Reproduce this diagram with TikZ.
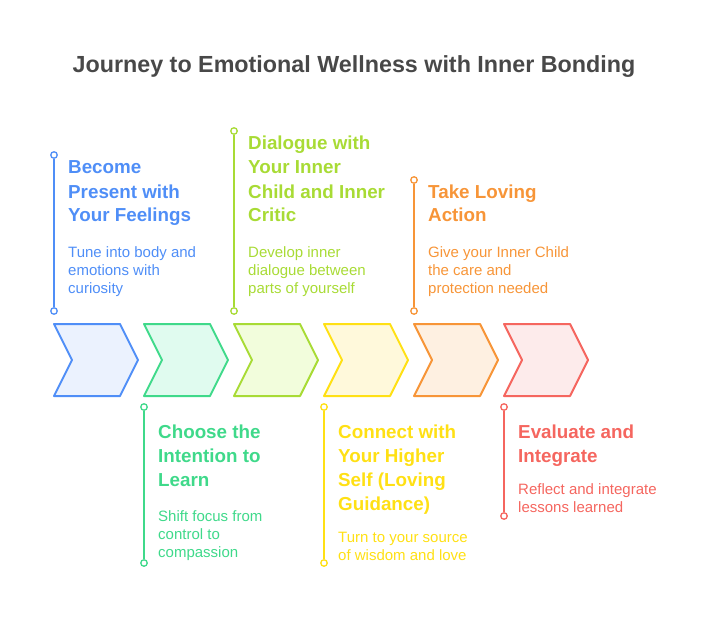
\documentclass[tikz,border=0pt]{standalone}
\usepackage{fontspec}
\setmainfont{Liberation Sans}
\definecolor{titlec}{HTML}{484848}
\definecolor{cA}{HTML}{4F8EF7}\definecolor{fA}{HTML}{EBF2FE}
\definecolor{cB}{HTML}{3FD98A}\definecolor{fB}{HTML}{E0FBEF}
\definecolor{cC}{HTML}{A8DB35}\definecolor{fC}{HTML}{F2FDDC}
\definecolor{cD}{HTML}{FFE014}\definecolor{fD}{HTML}{FFF9DB}
\definecolor{cE}{HTML}{F79538}\definecolor{fE}{HTML}{FEF0E1}
\definecolor{cF}{HTML}{F5665F}\definecolor{fF}{HTML}{FDEBEB}
\begin{document}
\begin{tikzpicture}[x=1pt,y=-1pt]
\useasboundingbox (0,0) rectangle (708,636);
\tikzset{
 hd/.style={font=\fontsize{18.8}{24}\selectfont\bfseries, inner sep=0, anchor=base west},
 bd/.style={font=\fontsize{15}{18}\selectfont, inner sep=0, anchor=base west},
 dot/.style={circle, draw, fill=white, line width=1.3pt, minimum size=6.5pt, inner sep=0},
 vline/.style={line width=2pt},
 chev/.style={line width=2pt, line join=round},
}
\node[font=\fontsize{23.3}{28}\selectfont\bfseries, text=titlec, inner sep=0] (title) at (354,67) {Journey to Emotional Wellness with Inner Bonding};

% chevrons
\foreach \x/\c/\f [count=\i] in {54/cA/fA,144/cB/fB,234/cC/fC,324/cD/fD,414/cE/fE,504/cF/fF}{
  \draw[chev, draw=\c, fill=\f] (\x,324) coordinate (ch\i) -- ++(66,0) -- ++(18,36) -- ++(-18,36) -- ++(-66,0) -- ++(18,-36) -- cycle;
}

% timeline lines
\foreach \x/\ya/\yb/\c [count=\i] in {54/155/311/cA,144/407/563/cB,234/131/311/cC,324/407/563/cD,414/180/311/cE,504/407/516/cF}{
  \node[dot, draw=\c] (da\i) at (\x,\ya) {};
  \node[dot, draw=\c] (db\i) at (\x,\yb) {};
  \draw[vline, \c] (da\i) -- (db\i);
}

% texts step 1
\foreach \t [count=\k] in {Become,Present with,Your Feelings}
  \node[hd, text=cA] (h1-\k) at (68,174+24*\k-24) {\t};
\foreach \t [count=\k] in {Tune into body and,emotions with,curiosity}
  \node[bd, text=cA] (b1-\k) at (68,257+18*\k-18) {\t};
% step 2
\foreach \t [count=\k] in {Choose the,Intention to,Learn}
  \node[hd, text=cB] (h2-\k) at (158,438+24*\k-24) {\t};
\foreach \t [count=\k] in {Shift focus from,control to,compassion}
  \node[bd, text=cB] (b2-\k) at (158,521+18*\k-18) {\t};
% step 3
\foreach \t [count=\k] in {Dialogue with,Your Inner,Child and Inner,Critic}
  \node[hd, text=cC] (h3-\k) at (248,150+24*\k-24) {\t};
\foreach \t [count=\k] in {Develop inner,dialogue between,parts of yourself}
  \node[bd, text=cC] (b3-\k) at (248,257+18*\k-18) {\t};
% step 4
\foreach \t [count=\k] in {Connect with,Your Higher,Self (Loving,Guidance)}
  \node[hd, text=cD] (h4-\k) at (338,438+24*\k-24) {\t};
\foreach \t [count=\k] in {Turn to your source,of wisdom and love}
  \node[bd, text=cD] (b4-\k) at (338,542+18*\k-18) {\t};
% step 5
\foreach \t [count=\k] in {Take Loving,Action}
  \node[hd, text=cE] (h5-\k) at (428,198+24*\k-24) {\t};
\foreach \t [count=\k] in {Give your Inner Child,the care and,protection needed}
  \node[bd, text=cE] (b5-\k) at (428,257+18*\k-18) {\t};
% step 6
\foreach \t [count=\k] in {Evaluate and,Integrate}
  \node[hd, text=cF] (h6-\k) at (518,438+24*\k-24) {\t};
\foreach \t [count=\k] in {Reflect and integrate,lessons learned}
  \node[bd, text=cF] (b6-\k) at (518,494+18*\k-18) {\t};
\end{tikzpicture}
\end{document}
